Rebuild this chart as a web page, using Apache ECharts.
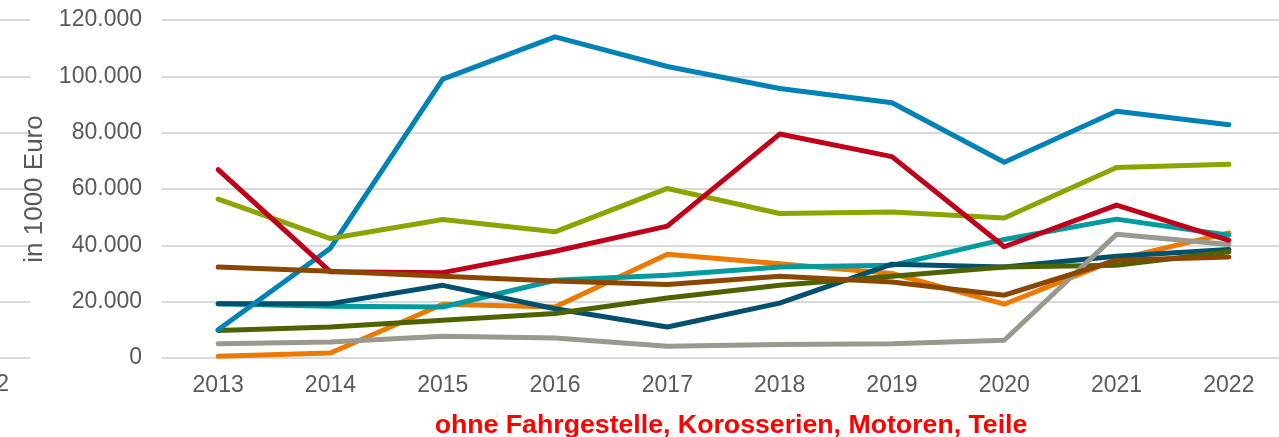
<!DOCTYPE html>
<html>
<head>
<meta charset="utf-8">
<script src="https://cdn.jsdelivr.net/npm/echarts@6/dist/echarts.min.js"></script>
<style>
  html, body { margin: 0; padding: 0; background: #fff; }
  #chart { width: 1279px; height: 437px; }
</style>
</head>
<body>
<div id="chart"></div>
<script>
const years = ['2013', '2014', '2015', '2016', '2017', '2018', '2019', '2020', '2021', '2022'];

// Werte in 1000 Euro
const orange = [600, 1800, 19100, 18100, 36800, 33500, 30000, 19100, 35000, 44400];
const teal = [19300, 18400, 18100, 27600, 29400, 32300, 32900, 42100, 49300, 43600];
const darkBlue = [19300, 19300, 25800, 17500, 11000, 19500, 33300, 32300, 36100, 38500];
const olive = [9800, 11000, 13400, 15800, 21300, 25800, 29000, 32300, 32900, 37700];
const gray = [5100, 5700, 7700, 7100, 4200, 4800, 5100, 6300, 43900, 40300];
const blue = [10000, 39000, 99000, 114000, 103500, 95700, 90600, 69500, 87600, 82800];
const green = [56400, 42400, 49200, 44800, 60200, 51300, 51800, 49700, 67600, 68800];
const red = [66900, 30600, 30300, 37900, 46800, 79500, 71500, 39500, 54300, 41800];
const brown = [32300, 30800, 29000, 27300, 26100, 29000, 27000, 22300, 34700, 35900];

const TEXT = '#595959';
const GRID_LINE = '#d9d9d9';

const fmt = (v) => String(v).replace(/\B(?=(\d{3})+(?!\d))/g, '.');

const lineSeries = (data, color) => ({
  type: 'line',
  data,
  symbol: 'none',
  silent: true,
  lineStyle: { color, width: 5, cap: 'round', join: 'round' },
});

const chart = echarts.init(document.getElementById('chart'));

chart.setOption({
  animation: false,
  backgroundColor: '#fff',
  textStyle: { fontFamily: 'Liberation Sans, Arial, sans-serif' },
  title: {
    text: 'ohne Fahrgestelle, Korosserien, Motoren, Teile',
    left: 726,
    top: 407,
    textAlign: 'center',
    textStyle: { color: '#ff0000', fontSize: 26.7, fontWeight: 'bold', fontFamily: 'Liberation Sans, Arial, sans-serif' },
  },
  grid: [
    { left: 162, top: 20, width: 1123, height: 338, outerBoundsMode: 'none' },
    // Rest des Nachbardiagramms am linken Rand
    { left: -200, top: 20, width: 230, height: 338, outerBoundsMode: 'none' },
  ],
  xAxis: [
    {
      gridIndex: 0,
      type: 'category',
      data: years,
      axisLine: { show: false },
      axisTick: { show: false },
      axisLabel: { color: TEXT, fontSize: 23, margin: 16 },
    },
    {
      gridIndex: 1,
      type: 'category',
      data: [''],
      axisLine: { show: false },
      axisTick: { show: false },
      axisLabel: { show: false },
    },
  ],
  yAxis: [
    {
      gridIndex: 0,
      type: 'value',
      min: 0,
      max: 120000,
      interval: 20000,
      name: 'in 1000 Euro',
      nameLocation: 'middle',
      nameGap: 114,
      nameTextStyle: { color: TEXT, fontSize: 26 },
      axisLine: { show: false },
      axisTick: { show: false },
      axisLabel: { color: TEXT, fontSize: 23, margin: 20, formatter: fmt },
      splitLine: { lineStyle: { color: GRID_LINE, width: 2 } },
    },
    {
      gridIndex: 1,
      type: 'value',
      min: 0,
      max: 120000,
      interval: 20000,
      axisLine: { show: false },
      axisTick: { show: false },
      axisLabel: { show: false },
      splitLine: { lineStyle: { color: GRID_LINE, width: 2 } },
    },
  ],
  graphic: [
    {
      type: 'text',
      x: 9,
      y: 385,
      style: { text: '2022', fill: TEXT, fontSize: 23, align: 'right', verticalAlign: 'middle', fontFamily: 'Liberation Sans, Arial, sans-serif' },
    },
  ],
  series: [
    lineSeries(orange, '#ec7a00'),
    lineSeries(teal, '#009b9e'),
    lineSeries(darkBlue, '#00506e'),
    lineSeries(olive, '#4e6200'),
    lineSeries(gray, '#999990'),
    lineSeries(blue, '#0082b6'),
    lineSeries(green, '#8ca400'),
    lineSeries(red, '#c0001a'),
    lineSeries(brown, '#8b4700'),
  ],
});
</script>
</body>
</html>
